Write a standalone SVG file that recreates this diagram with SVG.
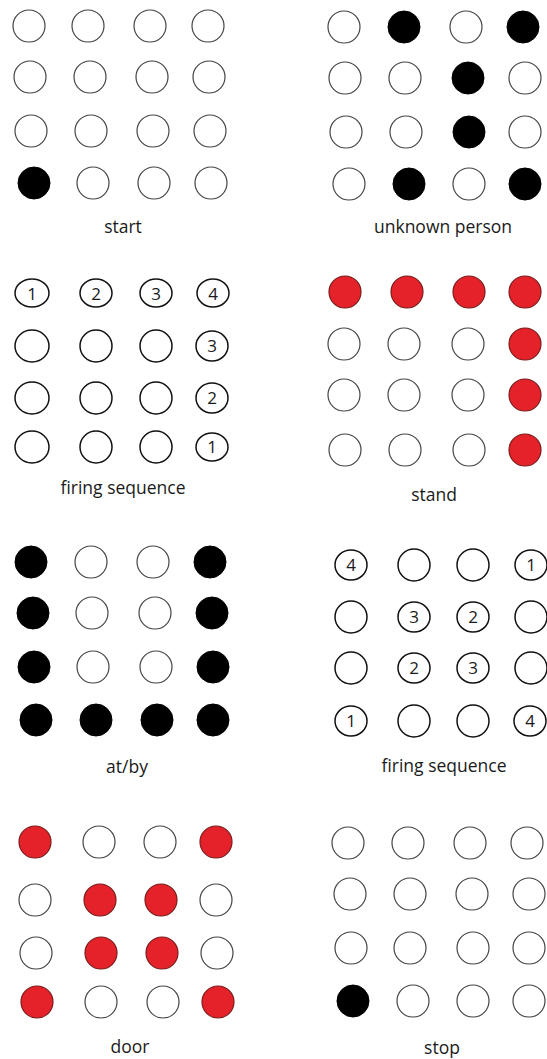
<svg xmlns="http://www.w3.org/2000/svg" width="547" height="1059" viewBox="0 0 547 1059">
<style>
.o{fill:#fff;stroke:#444;stroke-width:1.2}
.b{fill:#000;stroke:#000;stroke-width:1}
.r{fill:#e5222a;stroke:#7a1c1c;stroke-width:1.2}
.f{fill:#fff;stroke:#111;stroke-width:1.5}
.lbl{font-family:"Open Sans","Noto Sans",sans-serif;font-size:17.5px;fill:#1a1a1a;text-anchor:middle}
.n{font-family:"Open Sans","Noto Sans",sans-serif;font-size:17px;fill:#1a1a1a;text-anchor:middle}
</style>
<rect width="547" height="1059" fill="#fff"/>
<g id="panel-start">
<circle class="o" cx="29" cy="26" r="16"/><circle class="o" cx="88" cy="26" r="16"/><circle class="o" cx="150" cy="26" r="16"/><circle class="o" cx="208" cy="26" r="16"/>
<circle class="o" cx="30" cy="77" r="16"/><circle class="o" cx="90" cy="77" r="16"/><circle class="o" cx="152" cy="77" r="16"/><circle class="o" cx="209" cy="77" r="16"/>
<circle class="o" cx="31" cy="131" r="16"/><circle class="o" cx="91" cy="131" r="16"/><circle class="o" cx="153" cy="131" r="16"/><circle class="o" cx="210" cy="131" r="16"/>
<circle class="b" cx="34" cy="183" r="16"/><circle class="o" cx="93" cy="183" r="16"/><circle class="o" cx="154" cy="183" r="16"/><circle class="o" cx="211" cy="183" r="16"/>
<text class="lbl" x="123" y="233">start</text>
</g>
<g id="panel-unknown-person">
<circle class="o" cx="344" cy="27" r="16"/><circle class="b" cx="404" cy="27" r="16"/><circle class="o" cx="466" cy="27" r="16"/><circle class="b" cx="523" cy="27" r="16"/>
<circle class="o" cx="345" cy="78" r="16"/><circle class="o" cx="405" cy="78" r="16"/><circle class="b" cx="468" cy="78" r="16"/><circle class="o" cx="525" cy="78" r="16"/>
<circle class="o" cx="346" cy="132" r="16"/><circle class="o" cx="406" cy="132" r="16"/><circle class="b" cx="469" cy="132" r="16"/><circle class="o" cx="525" cy="132" r="16"/>
<circle class="o" cx="349" cy="184" r="16"/><circle class="b" cx="409" cy="184" r="16"/><circle class="o" cx="469" cy="184" r="16"/><circle class="b" cx="525" cy="184" r="16"/>
<text class="lbl" x="443" y="233">unknown person</text>
</g>
<g id="panel-firing-sequence-1">
<ellipse class="f" cx="32" cy="293" rx="17" ry="14"/><ellipse class="f" cx="96" cy="293" rx="16" ry="14"/><ellipse class="f" cx="156" cy="293" rx="16" ry="14"/><ellipse class="f" cx="213" cy="293" rx="16" ry="14"/>
<text class="n" x="32" y="300">1</text><text class="n" x="96" y="300">2</text><text class="n" x="156" y="300">3</text><text class="n" x="213" y="300">4</text>
<ellipse class="f" cx="32" cy="346" rx="17" ry="16"/><ellipse class="f" cx="96" cy="346" rx="16" ry="16"/><ellipse class="f" cx="156" cy="346" rx="16" ry="16"/><ellipse class="f" cx="212" cy="346" rx="16" ry="15"/>
<text class="n" x="212" y="352">3</text>
<ellipse class="f" cx="32" cy="398" rx="17" ry="16"/><ellipse class="f" cx="96" cy="398" rx="16" ry="16"/><ellipse class="f" cx="156" cy="398" rx="16" ry="16"/><ellipse class="f" cx="212" cy="398" rx="16" ry="15"/>
<text class="n" x="212" y="404">2</text>
<ellipse class="f" cx="32" cy="447" rx="17" ry="16"/><ellipse class="f" cx="96" cy="447" rx="16" ry="16"/><ellipse class="f" cx="156" cy="447" rx="16" ry="16"/><ellipse class="f" cx="212" cy="447" rx="16" ry="14"/>
<text class="n" x="212" y="453">1</text>
<text class="lbl" x="123" y="494">firing sequence</text>
</g>
<g id="panel-stand">
<circle class="r" cx="345" cy="292" r="16"/><circle class="r" cx="407" cy="292" r="16"/><circle class="r" cx="469" cy="292" r="16"/><circle class="r" cx="525" cy="292" r="16"/>
<circle class="o" cx="344" cy="344" r="16"/><circle class="o" cx="404" cy="344" r="16"/><circle class="o" cx="468" cy="344" r="16"/><circle class="r" cx="525" cy="344" r="16"/>
<circle class="o" cx="344" cy="395" r="16"/><circle class="o" cx="404" cy="395" r="16"/><circle class="o" cx="468" cy="395" r="16"/><circle class="r" cx="525" cy="395" r="16"/>
<circle class="o" cx="345" cy="450" r="16"/><circle class="o" cx="405" cy="450" r="16"/><circle class="o" cx="469" cy="450" r="16"/><circle class="r" cx="525" cy="450" r="16"/>
<text class="lbl" x="434" y="501">stand</text>
</g>
<g id="panel-at-by">
<circle class="b" cx="31" cy="562" r="16"/><circle class="o" cx="91" cy="562" r="16"/><circle class="o" cx="153" cy="562" r="16"/><circle class="b" cx="210" cy="562" r="16"/>
<circle class="b" cx="33" cy="613" r="16"/><circle class="o" cx="92" cy="613" r="16"/><circle class="o" cx="155" cy="613" r="16"/><circle class="b" cx="212" cy="613" r="16"/>
<circle class="b" cx="34" cy="667" r="16"/><circle class="o" cx="93" cy="667" r="16"/><circle class="o" cx="156" cy="667" r="16"/><circle class="b" cx="213" cy="667" r="16"/>
<circle class="b" cx="36" cy="720" r="16"/><circle class="b" cx="96" cy="720" r="16"/><circle class="b" cx="157" cy="720" r="16"/><circle class="b" cx="213" cy="720" r="16"/>
<text class="lbl" x="127" y="773">at/by</text>
</g>
<g id="panel-firing-sequence-2">
<ellipse class="f" cx="351" cy="565" rx="16" ry="15"/><ellipse class="f" cx="414" cy="565" rx="16" ry="16"/><ellipse class="f" cx="473" cy="565" rx="16" ry="16"/><ellipse class="f" cx="531" cy="565" rx="16" ry="15"/>
<text class="n" x="351" y="571">4</text><text class="n" x="531" y="571">1</text>
<ellipse class="f" cx="351" cy="617" rx="16" ry="16"/><ellipse class="f" cx="414" cy="617" rx="16" ry="15"/><ellipse class="f" cx="473" cy="617" rx="16" ry="15"/><ellipse class="f" cx="531" cy="617" rx="16" ry="16"/>
<text class="n" x="414" y="623">3</text><text class="n" x="473" y="623">2</text>
<ellipse class="f" cx="351" cy="668" rx="16" ry="16"/><ellipse class="f" cx="414" cy="668" rx="16" ry="15"/><ellipse class="f" cx="473" cy="668" rx="16" ry="15"/><ellipse class="f" cx="531" cy="668" rx="16" ry="16"/>
<text class="n" x="414" y="674">2</text><text class="n" x="473" y="674">3</text>
<ellipse class="f" cx="351" cy="721" rx="16" ry="15"/><ellipse class="f" cx="414" cy="721" rx="16" ry="16"/><ellipse class="f" cx="473" cy="721" rx="16" ry="16"/><ellipse class="f" cx="530" cy="721" rx="16" ry="15"/>
<text class="n" x="351" y="727">1</text><text class="n" x="530" y="727">4</text>
<text class="lbl" x="444" y="772">firing sequence</text>
</g>
<g id="panel-door">
<circle class="r" cx="35" cy="842" r="16"/><circle class="o" cx="99" cy="842" r="16"/><circle class="o" cx="160" cy="842" r="16"/><circle class="r" cx="216" cy="842" r="16"/>
<circle class="o" cx="35" cy="900" r="16"/><circle class="r" cx="100" cy="900" r="16"/><circle class="r" cx="161" cy="900" r="16"/><circle class="o" cx="216" cy="900" r="16"/>
<circle class="o" cx="36" cy="953" r="16"/><circle class="r" cx="101" cy="953" r="16"/><circle class="r" cx="162" cy="953" r="16"/><circle class="o" cx="217" cy="953" r="16"/>
<circle class="r" cx="37" cy="1002" r="16"/><circle class="o" cx="101" cy="1002" r="16"/><circle class="o" cx="163" cy="1002" r="16"/><circle class="r" cx="218" cy="1002" r="16"/>
<text class="lbl" x="130" y="1053">door</text>
</g>
<g id="panel-stop">
<circle class="o" cx="348" cy="843" r="16"/><circle class="o" cx="408" cy="843" r="16"/><circle class="o" cx="470" cy="843" r="16"/><circle class="o" cx="527" cy="843" r="16"/>
<circle class="o" cx="350" cy="894" r="16"/><circle class="o" cx="410" cy="894" r="16"/><circle class="o" cx="472" cy="894" r="16"/><circle class="o" cx="529" cy="894" r="16"/>
<circle class="o" cx="351" cy="948" r="16"/><circle class="o" cx="410" cy="948" r="16"/><circle class="o" cx="473" cy="948" r="16"/><circle class="o" cx="529" cy="948" r="16"/>
<circle class="b" cx="353" cy="1001" r="16"/><circle class="o" cx="413" cy="1001" r="16"/><circle class="o" cx="473" cy="1001" r="16"/><circle class="o" cx="529" cy="1001" r="16"/>
<text class="lbl" x="442" y="1054">stop</text>
</g>
</svg>
